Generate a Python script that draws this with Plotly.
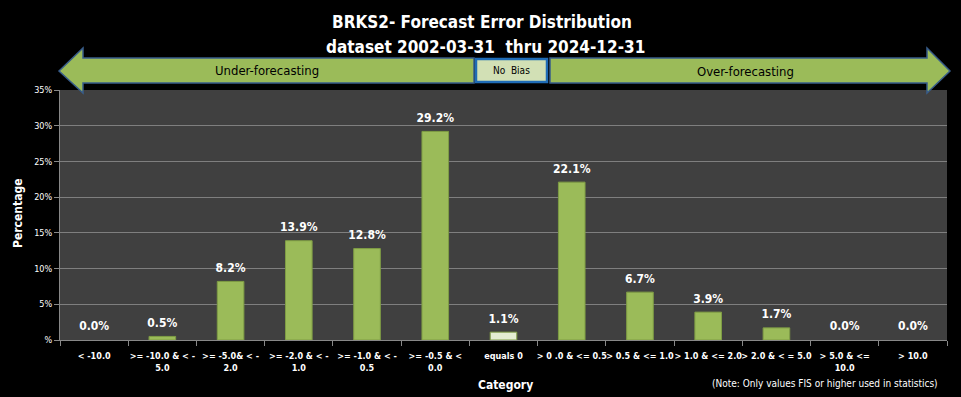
import plotly.graph_objects as go

categories = ["< -10.0", ">= -10.0 & < -<br>5.0", ">= -5.0& < -<br>2.0", ">= -2.0 & < -<br>1.0",
              ">= -1.0 & < -<br>0.5", ">= -0.5 & <<br>0.0", "equals 0", "> 0 .0 & <= 0.5",
              "> 0.5 & <= 1.0", "> 1.0 & <= 2.0", "> 2.0 & < = 5.0", "> 5.0 & <=<br>10.0", "> 10.0"]
values = [0.0, 0.5, 8.2, 13.9, 12.8, 29.2, 1.1, 22.1, 6.7, 3.9, 1.7, 0.0, 0.0]
value_labels = [f"{v:.1f}%" for v in values]
y_tickvals = [0, 5, 10, 15, 20, 25, 30, 35]
y_ticktext = ["%", "5%", "10%", "15%", "20%", "25%", "30%", "35%"]

FONT = "DejaVu Sans Condensed, Liberation Sans Narrow, sans-serif"
W, H = 961, 397
ML, MR, MT, MB = 60, 14, 90, 57
PW, PH = W - ML - MR, H - MT - MB


def px(x):
    return (x - ML) / PW


def py(y):
    return (H - MB - y) / PH


bar_colors = ["#9BBB59"] * len(values)
bar_colors[6] = "#E4EDD2"
bar_line_widths = [0 if v == 0 else 1 for v in values]

fig = go.Figure()
fig.add_trace(go.Bar(
    x=categories, y=values, width=0.39,
    marker=dict(color=bar_colors, line=dict(color="#7E9C44", width=bar_line_widths)),
    hoverinfo="skip",
))
fig.add_trace(go.Scatter(
    x=categories, y=values, mode="markers+text", text=value_labels,
    marker=dict(size=9, opacity=0),
    texttemplate="<b>%{text}</b>", textposition="top center", cliponaxis=False,
    textfont=dict(color="white", size=12, family=FONT), hoverinfo="skip",
))


def path(points):
    return "M " + " L ".join(f"{px(a)} {py(b)}" for a, b in points) + " Z"


left_arrow = [(59, 71), (83, 48), (83, 58), (474, 58), (474, 83), (83, 83), (83, 93)]
right_arrow = [(550, 58), (927, 58), (927, 48), (950, 71), (927, 93), (927, 83), (550, 83)]
shapes = [
    dict(type="path", xref="paper", yref="paper", path=path(left_arrow),
         fillcolor="#9BBB59", line=dict(color="#385D8A", width=1.5), layer="above"),
    dict(type="path", xref="paper", yref="paper", path=path(right_arrow),
         fillcolor="#9BBB59", line=dict(color="#385D8A", width=1.5), layer="above"),
    dict(type="rect", xref="paper", yref="paper", x0=px(476), x1=px(547), y0=py(82), y1=py(59),
         fillcolor="#D2E0B5", line=dict(color="#1F6BB5", width=2.5), layer="above"),
]


def note(text, x, y, size, color="white", angle=0):
    return dict(text=text, x=px(x), y=py(y), xref="paper", yref="paper",
                xanchor="center", yanchor="middle", showarrow=False, textangle=angle,
                font=dict(size=size, color=color, family=FONT))


annotations = [
    note("Under-forecasting", 267, 71, 13, "black"),
    note("Over-forecasting", 745, 72, 13, "black"),
    note("No  Bias", 511, 71, 10, "black"),
    note("<b>BRKS2- Forecast Error Distribution</b>", 482, 22, 17),
    note("<b>dataset 2002-03-31  thru 2024-12-31</b>", 485, 47, 17),
    note("<b>Category</b>", 505, 385, 12),
    note("(Note: Only values FIS or higher used in statistics)", 825, 383, 10),
    note("<b>Percentage</b>", 18, 214, 12, angle=-90),
]

fig.update_layout(
    width=W, height=H,
    margin=dict(l=ML, r=MR, t=MT, b=MB),
    paper_bgcolor="black", plot_bgcolor="#404040",
    showlegend=False,
    shapes=shapes, annotations=annotations,
)
fig.update_xaxes(
    type="category", tickson="boundaries", ticks="outside", ticklen=5, tickcolor="#888888",
    tickvals=categories, ticktext=[f"<b>{c}</b>" for c in categories],
    showline=True, linecolor="#888888", linewidth=1, showgrid=False,
    tickfont=dict(color="white", size=9, family=FONT), tickangle=0, ticklabelstandoff=7,
    range=[-0.5, len(categories) - 0.5], fixedrange=True,
)
fig.update_yaxes(
    range=[0, 35], tickvals=y_tickvals, ticktext=y_ticktext,
    ticks="outside", ticklen=5, tickcolor="#888888",
    showline=True, linecolor="#888888", linewidth=1,
    showgrid=True, gridcolor="#7F7F7F", gridwidth=1, zeroline=False,
    tickfont=dict(color="white", size=9, family=FONT), fixedrange=True,
)

fig.write_html("out.html", config={"displayModeBar": False},
               post_script="document.body.style.margin='0';document.body.style.background='black';")
